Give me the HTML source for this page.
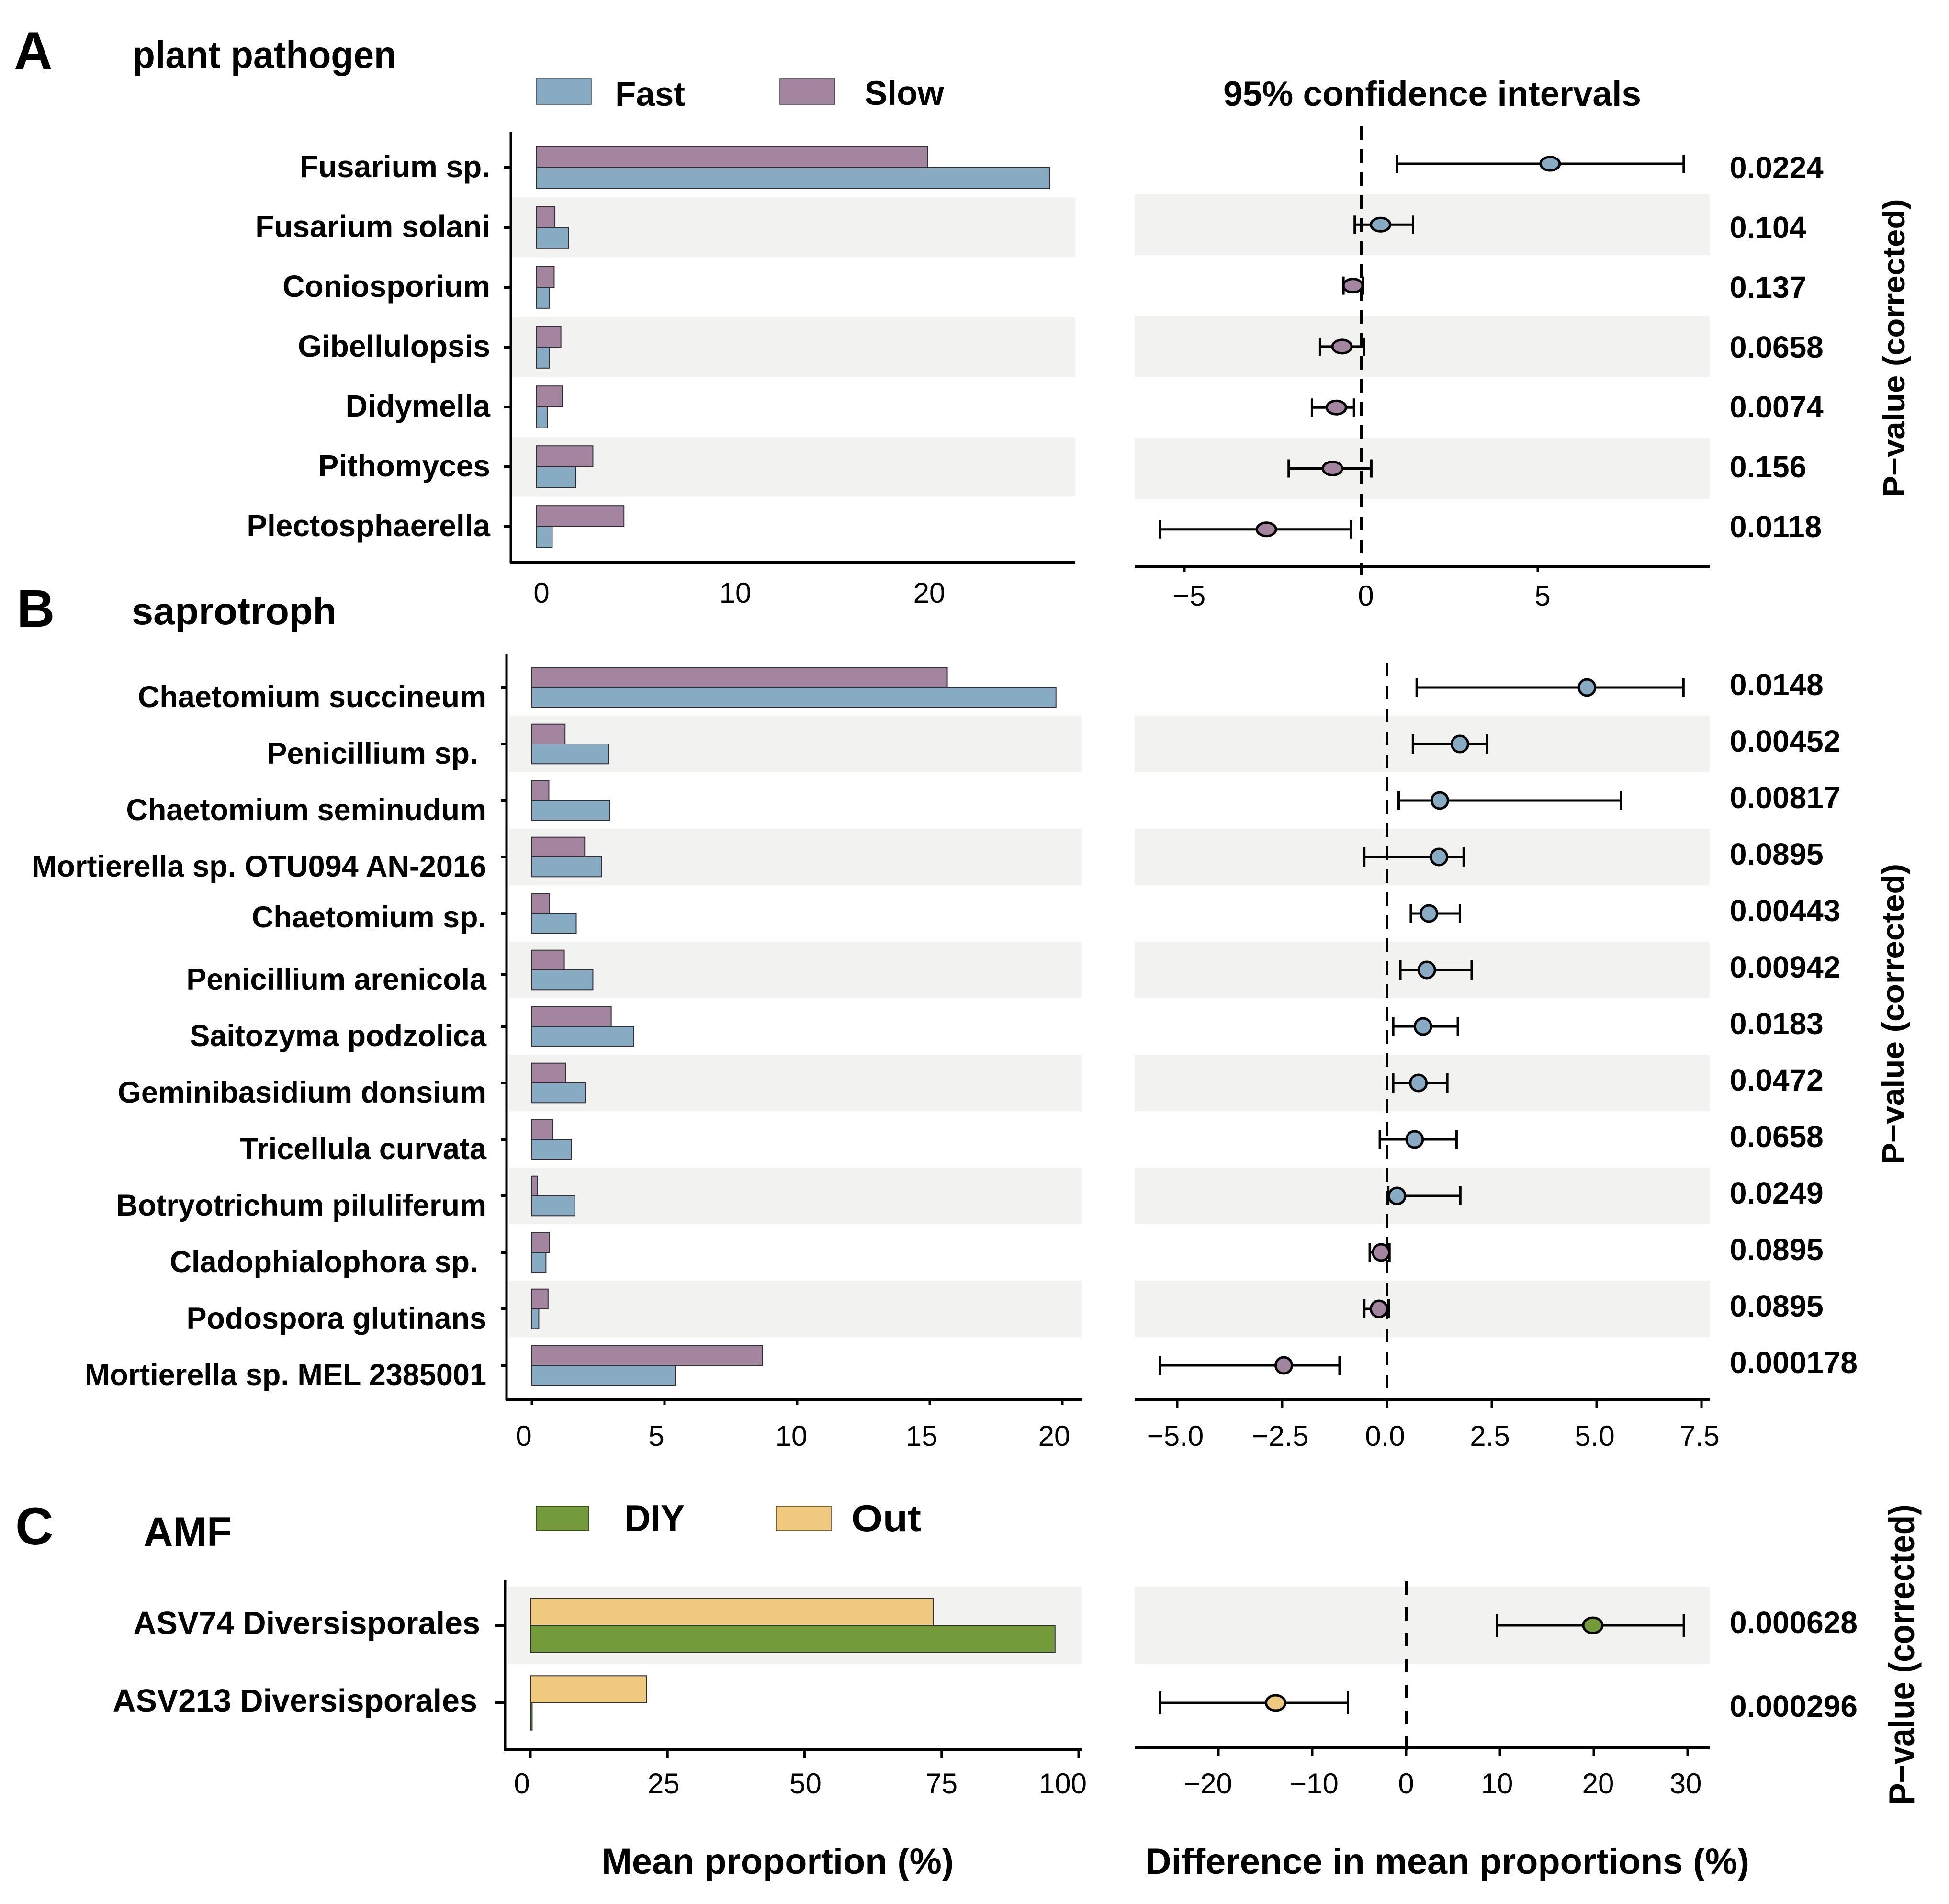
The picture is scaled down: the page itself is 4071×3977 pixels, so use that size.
<!DOCTYPE html>
<html lang="en">
<head>
<meta charset="utf-8">
<title>Mean proportion and 95% confidence intervals</title>
<style>
html,body{margin:0;padding:0;background:#fff;}
svg{display:block;font-family:"Liberation Sans",Arial,sans-serif;}
text{fill:#000;}
.b{font-weight:bold;}
</style>
</head>
<body>
<svg xmlns="http://www.w3.org/2000/svg" width="4071" height="3977" viewBox="0 0 4071 3977">
  <rect x="0" y="0" width="4071" height="3977" fill="#fff"/>

  <text class="b" x="29" y="145" font-size="112">A</text>
  <text class="b" x="277" y="142" font-size="80" textLength="551" lengthAdjust="spacingAndGlyphs">plant pathogen</text>
  <rect x="1120" y="164" width="115" height="54" fill="#88ABC4" stroke="#3a4650" stroke-width="1.5"/>
  <text class="b" x="1285" y="221" font-size="71">Fast</text>
  <rect x="1629" y="164" width="115" height="54" fill="#A3859F" stroke="#3a3340" stroke-width="1.5"/>
  <text class="b" x="1806" y="219" font-size="71">Slow</text>
  <text class="b" x="2555" y="221" font-size="73" textLength="873" lengthAdjust="spacingAndGlyphs">95% confidence intervals</text>
  <text class="b" transform="translate(3978,727) rotate(-90)" text-anchor="middle" font-size="64" textLength="623" lengthAdjust="spacingAndGlyphs">P−value (corrected)</text>

  <text class="b" x="35" y="1309" font-size="110">B</text>
  <text class="b" x="275" y="1304" font-size="80" textLength="428" lengthAdjust="spacingAndGlyphs">saprotroph</text>
  <text class="b" transform="translate(3976,2118) rotate(-90)" text-anchor="middle" font-size="64" textLength="628" lengthAdjust="spacingAndGlyphs">P−value (corrected)</text>

  <text class="b" x="32" y="3226" font-size="110">C</text>
  <text class="b" x="300" y="3229" font-size="86" textLength="184" lengthAdjust="spacingAndGlyphs">AMF</text>
  <rect x="1120" y="3146" width="110" height="51" fill="#739B3C" stroke="#2c3a18" stroke-width="1.5"/>
  <text class="b" x="1305" y="3198" font-size="78" textLength="125" lengthAdjust="spacingAndGlyphs">DIY</text>
  <rect x="1621" y="3146" width="115" height="51" fill="#EFC97D" stroke="#4a3f22" stroke-width="1.5"/>
  <text class="b" x="1778" y="3198" font-size="78" textLength="146" lengthAdjust="spacingAndGlyphs">Out</text>
  <text class="b" transform="translate(3998,3456) rotate(-90) scale(1,1.18)" text-anchor="middle" font-size="64" textLength="627" lengthAdjust="spacingAndGlyphs">P−value (corrected)</text>

  <text class="b" x="1257" y="3914" font-size="76" textLength="735" lengthAdjust="spacingAndGlyphs">Mean proportion (%)</text>
  <text class="b" x="2392" y="3914" font-size="76" textLength="1262" lengthAdjust="spacingAndGlyphs">Difference in mean proportions (%)</text>

  <g id="panel-a"></g>
  <g id="panel-b"></g>
  <g id="panel-c"></g>
</svg>

<script>
/* ---------- Panel A data ---------- */
const panelACategories = ['Fusarium sp.', 'Fusarium solani', 'Coniosporium', 'Gibellulopsis', 'Didymella', 'Pithomyces', 'Plectosphaerella'];
const panelAFast = [26.45, 1.63, 0.65, 0.65, 0.55, 2.0, 0.8];
const panelASlow = [20.15, 0.94, 0.9, 1.25, 1.33, 2.9, 4.5];
const panelADiffMean = [5.35, 0.55, -0.23, -0.54, -0.7, -0.81, -2.68];
const panelADiffLow = [1.01, -0.18, -0.5, -1.16, -1.39, -2.05, -5.69];
const panelADiffHigh = [9.13, 1.47, 0.06, 0.08, -0.2, 0.29, -0.28];
const panelAPValues = ['0.0224', '0.104', '0.137', '0.0658', '0.0074', '0.156', '0.0118'];
const panelAMeanTicks = [0, 10, 20];
const panelAMeanTickLabels = ['0', '10', '20'];
const panelADiffTicks = [-5, 0, 5];
const panelADiffTickLabels = ['−5', '0', '5'];

/* ---------- Panel B data ---------- */
const panelBCategories = ['Chaetomium succineum', 'Penicillium sp.\u00a0', 'Chaetomium seminudum', 'Mortierella sp. OTU094 AN-2016', 'Chaetomium sp.', 'Penicillium arenicola', 'Saitozyma podzolica', 'Geminibasidium donsium', 'Tricellula curvata', 'Botryotrichum piluliferum', 'Cladophialophora sp.\u00a0', 'Podospora glutinans', 'Mortierella sp. MEL 2385001'];
const panelBFast = [19.76, 2.89, 2.94, 2.62, 1.67, 2.3, 3.84, 2.01, 1.48, 1.62, 0.53, 0.26, 5.4];
const panelBSlow = [15.66, 1.25, 0.64, 1.99, 0.66, 1.22, 2.99, 1.27, 0.79, 0.21, 0.66, 0.61, 8.69];
const panelBDiffMean = [4.77, 1.74, 1.26, 1.24, 1.0, 0.95, 0.86, 0.75, 0.66, 0.24, -0.14, -0.19, -2.46];
const panelBDiffLow = [0.71, 0.62, 0.28, -0.54, 0.57, 0.32, 0.15, 0.15, -0.17, 0.03, -0.41, -0.54, -5.41];
const panelBDiffHigh = [7.07, 2.38, 5.58, 1.83, 1.74, 2.02, 1.69, 1.44, 1.66, 1.75, 0.06, 0.04, -1.13];
const panelBPValues = ['0.0148', '0.00452', '0.00817', '0.0895', '0.00443', '0.00942', '0.0183', '0.0472', '0.0658', '0.0249', '0.0895', '0.0895', '0.000178'];
const panelBMeanTicks = [0, 5, 10, 15, 20];
const panelBMeanTickLabels = ['0', '5', '10', '15', '20'];
const panelBDiffTicks = [-5, -2.5, 0, 2.5, 5, 7.5];
const panelBDiffTickLabels = ['−5.0', '−2.5', '0.0', '2.5', '5.0', '7.5'];

/* ---------- Panel C data ---------- */
const panelCCategories = ['ASV74 Diversisporales', 'ASV213 Diversisporales'];
const panelCDiy = [95.7, 0.3];
const panelCOut = [73.5, 21.2];
const panelCDiffMean = [19.9, -13.9];
const panelCDiffLow = [9.7, -26.2];
const panelCDiffHigh = [29.6, -6.2];
const panelCPValues = ['0.000628', '0.000296'];
const panelCMeanTicks = [0, 25, 50, 75, 100];
const panelCMeanTickLabels = ['0', '25', '50', '75', '100'];
const panelCDiffTicks = [-20, -10, 0, 10, 20, 30];
const panelCDiffTickLabels = ['−20', '−10', '0', '10', '20', '30'];

const FAST_COLOR = '#88ABC4';
const SLOW_COLOR = '#A3859F';
const DIY_COLOR = '#739B3C';
const OUT_COLOR = '#EFC97D';
const SHADE_COLOR = '#F2F2F0';
const NS = 'http://www.w3.org/2000/svg';

function make(parent, tag, attrs, content) {
  const el = document.createElementNS(NS, tag);
  for (const key in attrs) el.setAttribute(key, attrs[key]);
  if (content !== undefined) el.textContent = content;
  parent.appendChild(el);
  return el;
}
function slug(s) {
  return s.trim().toLowerCase().replace(/[^a-z0-9]+/g, '-');
}

function drawAxisLine(parent, x1, y1, x2, y2, width, name) {
  const el = make(parent, 'line', {x1: x1, y1: y1, x2: x2, y2: y2, stroke: '#000', 'stroke-width': width});
  
  
  return el;
}

function drawXTicks(parent, prefix, ticks, labels, scale, axisY, tickLength, baseline, labelShift, nudge) {
  ticks.forEach(function (value, i) {
    if (tickLength > 0) {
      drawAxisLine(parent, scale(value), axisY, scale(value), axisY + tickLength, 5, prefix + '-x-tick-' + i);
    }
    const label = make(parent, 'text', {
      x: scale(value) + labelShift + (nudge[i] || 0),
      y: baseline,
      'text-anchor': 'middle',
      'font-size': 60
    }, labels[i]);
    
    
  });
}

function drawBars(parent, prefix, L, categories, topValues, bottomValues, topColor, bottomColor, topName, bottomName, ticks, tickLabels) {
  const x = function (v) { return L.x0 + v * L.unit; };
  const y = function (i) { return L.rowY0 + i * L.step; };

  categories.forEach(function (cat, i) {
    if (i % 2 === L.shadeIndex) {
      const shade = make(parent, 'rect', {x: L.shadeLeft, y: y(i) - L.step / 2, width: L.right - L.shadeLeft, height: L.step, fill: SHADE_COLOR});
      
      
    }
  });

  drawAxisLine(parent, L.axisX, L.top, L.axisX, L.bottom + 2, 5, prefix + '-y-axis');
  drawAxisLine(parent, L.axisX - 2, L.bottom, L.right, L.bottom, 6, prefix + '-x-axis');

  categories.forEach(function (cat, i) {
    const barTop = make(parent, 'rect', {x: x(0), y: y(i) - L.halfBar, width: x(topValues[i]) - x(0), height: L.halfBar, fill: topColor, stroke: '#2f2f33', 'stroke-width': 2});
    
    
    const barBottom = make(parent, 'rect', {x: x(0), y: y(i), width: x(bottomValues[i]) - x(0), height: L.halfBar, fill: bottomColor, stroke: '#2f2f33', 'stroke-width': 2});
    
    

    drawAxisLine(parent, L.yTickLeft, y(i) + (L.tickNudge[i] || 0), L.axisX, y(i) + (L.tickNudge[i] || 0), 6, prefix + '-y-tick-' + i);

    const label = make(parent, 'text', {
      x: L.labelX + (L.labelXNudge[i] || 0),
      y: y(i) + L.labelDy + (L.labelNudge[i] || 0),
      'text-anchor': 'end',
      'font-size': L.labelFont,
      'font-weight': 'bold',
      'xml:space': 'preserve'
    }, cat);
    
    
  });

  drawXTicks(parent, prefix + '-mean', ticks, tickLabels, x, L.bottom, L.xTickLength, L.tickBaseline, L.tickLabelShift, L.tickLabelNudge);
}

function drawIntervals(parent, prefix, L, categories, mean, low, high, pValues, posColor, negColor, ticks, tickLabels) {
  const x = function (v) { return L.zero + v * L.unit; };
  const y = function (i) { return L.rowY0 + i * L.step; };

  categories.forEach(function (cat, i) {
    if (i % 2 === L.shadeIndex) {
      const shade = make(parent, 'rect', {x: L.left, y: y(i) - L.step / 2, width: L.right - L.left, height: L.step, fill: SHADE_COLOR});
      
      
    }
  });

  drawAxisLine(parent, L.left, L.axisY, L.right, L.axisY, 6, prefix + '-x-axis');

  const zeroLine = make(parent, 'line', {x1: x(0), y1: L.dashTop, x2: x(0), y2: L.dashBottom, stroke: '#000', 'stroke-width': 6, 'stroke-dasharray': L.dash});
  
  

  drawXTicks(parent, prefix, ticks, tickLabels, x, L.axisY, L.xTickLength, L.tickBaseline, L.tickLabelShift, L.tickLabelNudge);

  categories.forEach(function (cat, i) {
    const row = y(i);
    const whisker = make(parent, 'line', {x1: x(low[i]), y1: row, x2: x(high[i]), y2: row, stroke: '#000', 'stroke-width': 5});
    
    

    const capLow = make(parent, 'line', {x1: x(low[i]), y1: row - L.cap, x2: x(low[i]), y2: row + L.cap, stroke: '#000', 'stroke-width': 5});
    
    

    const capHigh = make(parent, 'line', {x1: x(high[i]), y1: row - L.cap, x2: x(high[i]), y2: row + L.cap, stroke: '#000', 'stroke-width': 5});
    
    

    const point = make(parent, 'ellipse', {cx: x(mean[i]), cy: row, rx: L.rx, ry: L.ry, fill: mean[i] >= 0 ? posColor : negColor, stroke: '#000', 'stroke-width': 5});
    
    

    const p = make(parent, 'text', {
      x: L.pX,
      y: L.pRowY0 + i * L.pStep,
      'font-size': 64,
      'font-weight': 'bold'
    }, pValues[i]);
    
    
  });
}

const panelA = document.getElementById('panel-a');
const panelB = document.getElementById('panel-b');
const panelC = document.getElementById('panel-c');

drawBars(panelA, 'panel-a', {
  x0: 1121, unit: 40.5, rowY0: 350, step: 125, halfBar: 43.8, axisX: 1067, top: 276, bottom: 1175,
  right: 2246, shadeLeft: 1069, shadeIndex: 1, labelX: 1024, labelDy: 20, labelFont: 64, labelNudge: {}, labelXNudge: {}, tickNudge: {},
  yTickLeft: 1053, xTickLength: 0, tickBaseline: 1259, tickLabelShift: 10, tickLabelNudge: {}
}, panelACategories, panelASlow, panelAFast, SLOW_COLOR, FAST_COLOR, 'slow', 'fast', panelAMeanTicks, panelAMeanTickLabels);

drawIntervals(panelA, 'panel-a-diff', {
  zero: 2843, unit: 73.8, rowY0: 342, step: 127.3, left: 2370, right: 3571, axisY: 1183, shadeIndex: 1,
  dashTop: 264, dashBottom: 1201, dash: '28 20', cap: 19, rx: 20, ry: 14, pX: 3613, pRowY0: 372, pStep: 125,
  xTickLength: 11, tickBaseline: 1265, tickLabelShift: 10, tickLabelNudge: {}
}, panelACategories, panelADiffMean, panelADiffLow, panelADiffHigh, panelAPValues, FAST_COLOR, SLOW_COLOR, panelADiffTicks, panelADiffTickLabels);

drawBars(panelB, 'panel-b', {
  x0: 1111, unit: 55.4, rowY0: 1436, step: 118, halfBar: 41.3, axisX: 1058, top: 1367, bottom: 2923,
  right: 2259, shadeLeft: 1064, shadeIndex: 1, labelX: 1016, labelDy: 41, labelFont: 63, labelNudge: {4: -12}, labelXNudge: {}, tickNudge: {5: 10},
  yTickLeft: 1046, xTickLength: 11, tickBaseline: 3020, tickLabelShift: -17, tickLabelNudge: {2: 5}
}, panelBCategories, panelBSlow, panelBFast, SLOW_COLOR, FAST_COLOR, 'slow', 'fast', panelBMeanTicks, panelBMeanTickLabels);

drawIntervals(panelB, 'panel-b-diff', {
  zero: 2897, unit: 87.6, rowY0: 1436, step: 118, left: 2370, right: 3571, axisY: 2923, shadeIndex: 1,
  dashTop: 1384, dashBottom: 2935, dash: '28 20', cap: 20, rx: 17, ry: 17, pX: 3613, pRowY0: 1452, pStep: 118,
  xTickLength: 17, tickBaseline: 3020, tickLabelShift: -4, tickLabelNudge: {}
}, panelBCategories, panelBDiffMean, panelBDiffLow, panelBDiffHigh, panelBPValues, FAST_COLOR, SLOW_COLOR, panelBDiffTicks, panelBDiffTickLabels);

drawBars(panelC, 'panel-c', {
  x0: 1108, unit: 11.45, rowY0: 3395, step: 162, halfBar: 56.7, axisX: 1055, top: 3300, bottom: 3655,
  right: 2259, shadeLeft: 1061, shadeIndex: 0, labelX: 1003, labelDy: 18, labelFont: 66.5, labelNudge: {}, labelXNudge: {1: -6}, tickNudge: {},
  yTickLeft: 1034, xTickLength: 17, tickBaseline: 3746, tickLabelShift: -8, tickLabelNudge: {0: -10, 4: -25, 2: 10, 3: 8}
}, panelCCategories, panelCOut, panelCDiy, OUT_COLOR, DIY_COLOR, 'out', 'diy', panelCMeanTicks, panelCMeanTickLabels);

drawIntervals(panelC, 'panel-c-diff', {
  zero: 2937, unit: 19.6, rowY0: 3395, step: 162, left: 2370, right: 3571, axisY: 3651, shadeIndex: 0,
  dashTop: 3303, dashBottom: 3667, dash: '28 26', cap: 24, rx: 20, ry: 16, pX: 3613, pRowY0: 3411, pStep: 175,
  xTickLength: 17, tickBaseline: 3746, tickLabelShift: 0, tickLabelNudge: {0: -22, 4: 9, 3: -6, 5: -4, 1: 4}
}, panelCCategories, panelCDiffMean, panelCDiffLow, panelCDiffHigh, panelCPValues, DIY_COLOR, OUT_COLOR, panelCDiffTicks, panelCDiffTickLabels);
</script>
</body>
</html>
